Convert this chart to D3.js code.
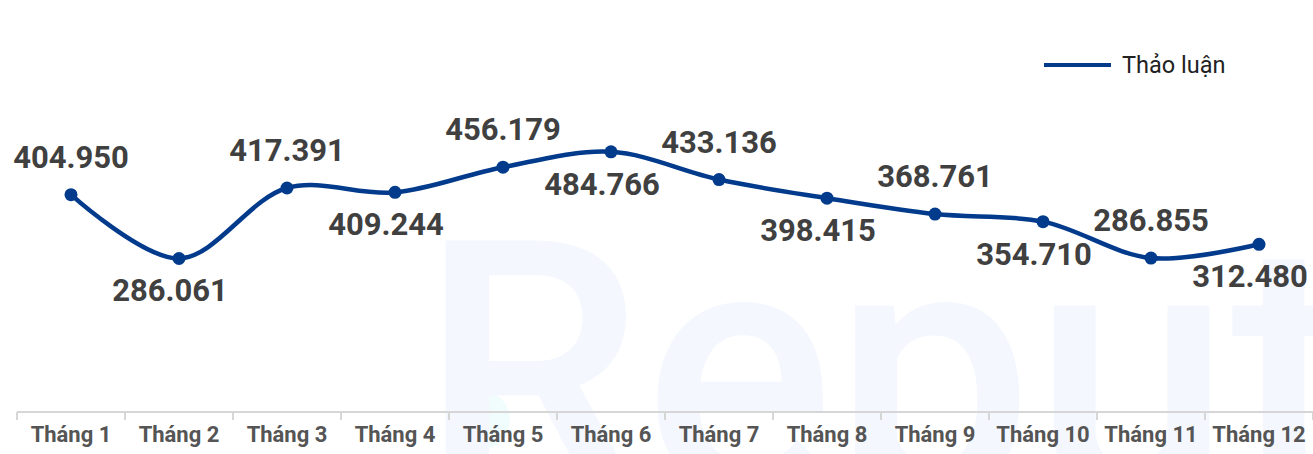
<!DOCTYPE html>
<html>
<head>
<meta charset="utf-8">
<script src="https://cdn.jsdelivr.net/npm/d3@7"></script>
<style>
  body { margin: 0; background: #fff; }
  svg { display: block; font-family: Roboto, "Noto Sans", sans-serif; }
</style>
</head>
<body>
<div id="chart"></div>
<script>
// data
const months = ['Tháng 1','Tháng 2','Tháng 3','Tháng 4','Tháng 5','Tháng 6','Tháng 7','Tháng 8','Tháng 9','Tháng 10','Tháng 11','Tháng 12'];
const discussions = [404950, 286061, 417391, 409244, 456179, 484766, 433136, 398415, 368761, 354710, 286855, 312480];
const seriesName = 'Thảo luận';

const W = 1313, H = 454;
const margin = {t: 90, r: 0, b: 42, l: 17};
const lineColor = '#023a8c';

const svg = d3.select('#chart').append('svg').attr('width', W).attr('height', H);

// watermark
svg.append('circle').attr('cx', 480).attr('cy', 420).attr('r', 30).attr('fill', '#f1fcfc');
svg.append('text')
  .attr('x', 420).attr('y', 493)
  .attr('font-size', 355).attr('font-weight', 500)
  .attr('fill', '#f4f7fe')
  .text('Reputa');

const x = d3.scaleBand().domain(months).range([margin.l, W - margin.r]);
const y = d3.scaleLinear().domain([0, 600000]).range([H - margin.b, margin.t]);

// axis
const axisG = svg.append('g').attr('transform', `translate(0,${H - margin.b})`);
axisG.append('line').attr('x1', margin.l).attr('x2', W).attr('stroke', '#d6d6d6').attr('stroke-width', 2);
axisG.selectAll('line.tick').data(months.concat([null])).join('line')
  .attr('class', 'tick')
  .attr('x1', (d, i) => margin.l + i * x.bandwidth())
  .attr('x2', (d, i) => margin.l + i * x.bandwidth())
  .attr('y1', 0).attr('y2', 8)
  .attr('stroke', '#d6d6d6').attr('stroke-width', 2);
axisG.selectAll('text').data(months).join('text')
  .attr('x', d => x(d) + x.bandwidth() / 2)
  .attr('y', 30)
  .attr('text-anchor', 'middle')
  .attr('font-size', 22).attr('font-weight', 700)
  .attr('fill', '#555')
  .text(d => d);

// line
const pts = months.map((m, i) => ({m, v: discussions[i]}));
const line = d3.line()
  .x(d => x(d.m) + x.bandwidth() / 2)
  .y(d => y(d.v))
  .curve(d3.curveCatmullRom.alpha(0.5));

svg.append('path').datum(pts)
  .attr('d', line)
  .attr('fill', 'none')
  .attr('stroke', lineColor)
  .attr('stroke-width', 4.5);

svg.append('g').selectAll('circle').data(pts).join('circle')
  .attr('cx', d => x(d.m) + x.bandwidth() / 2)
  .attr('cy', d => y(d.v))
  .attr('r', 6.5)
  .attr('fill', lineColor);

// value labels, alternating above / below
const fmt = v => d3.format(',')(v).replace(/,/g, '.');
const labels = svg.append('g').selectAll('text').data(pts).join('text')
  .attr('x', (d, i) => x(d.m) + x.bandwidth() / 2 - (i % 2 === 0 ? 0 : 9))
  .attr('y', (d, i) => i % 2 === 0 ? y(d.v) - 27 : y(d.v) + 43)
  .attr('text-anchor', 'middle')
  .attr('font-size', 31).attr('font-weight', 700)
  .attr('fill', '#404040')
  .text(d => fmt(d.v));
// keep last label inside
labels.each(function() {
  const b = this.getBBox();
  if (b.x + b.width > W - 3) d3.select(this).attr('x', +d3.select(this).attr('x') - (b.x + b.width - (W - 3)));
});

// legend
const lg = svg.append('g').attr('transform', 'translate(1044,65)');
lg.append('line').attr('x1', 0).attr('x2', 67).attr('stroke', lineColor).attr('stroke-width', 4);
lg.append('text').attr('x', 78).attr('y', 8)
  .attr('font-size', 23.5).attr('fill', '#222')
  .text(seriesName);
</script>
</body>
</html>
